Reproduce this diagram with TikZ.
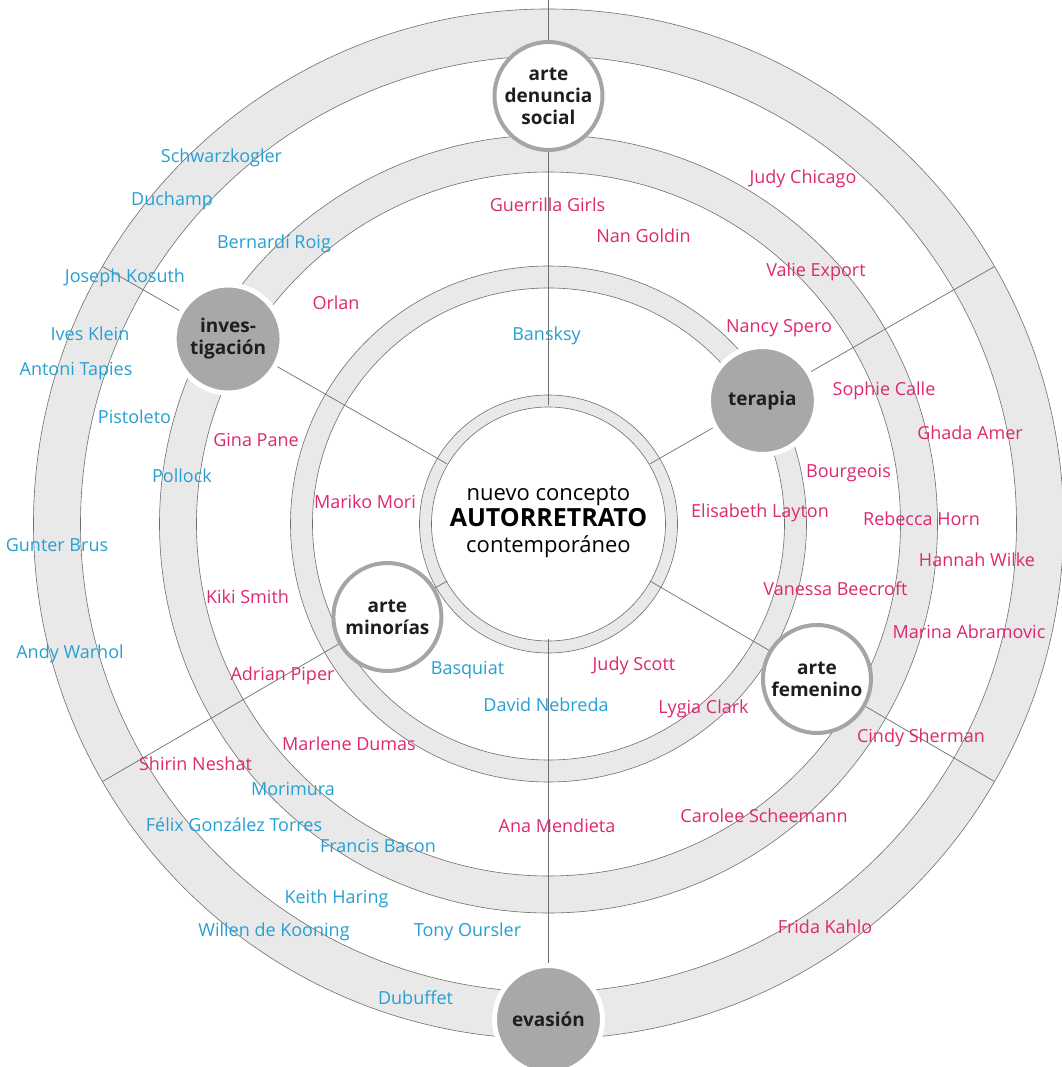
\documentclass[tikz,border=0pt]{standalone}
\usepackage{fontspec}
\setmainfont{Open Sans}
\definecolor{namesblue}{RGB}{38,160,210}
\definecolor{namespink}{RGB}{222,40,112}
\definecolor{bandgray}{RGB}{233,233,233}
\definecolor{linegray}{RGB}{110,110,110}
\definecolor{hubgray}{RGB}{168,168,168}
\definecolor{rimgray}{RGB}{165,165,165}
\definecolor{hubtext}{RGB}{30,30,30}

\begin{document}
\begin{tikzpicture}[
        x=1pt, y=1pt,
        band/.style={fill=bandgray, draw=linegray, line width=0.6pt, even odd rule},
        spoke/.style={draw=linegray, line width=0.7pt},
        hub/.style={circle, fill=hubgray, draw=white, line width=5pt, minimum size=108pt,
            inner sep=0pt, align=center, text=hubtext, font=\fontsize{19}{22}\selectfont\bfseries},
        hubwhite/.style={hub, fill=white, draw=rimgray, line width=4pt},
        bluename/.style={text=namesblue, inner sep=0pt, font=\fontsize{18}{20}\selectfont},
        pinkname/.style={bluename, text=namespink}
    ]
        \useasboundingbox (-548.5,-543) rectangle (512.5,524);
        \fill[white] (-548.5,-543) rectangle (512.5,524);

        % Rings
        \path[band] (0,0) circle (515pt) (0,0) circle (468pt);
        \path[band] (0,0) circle (389pt) (0,0) circle (352pt);
        \path[band] (0,0) circle (258pt) (0,0) circle (236pt);
        \path[band] (0,0) circle (129pt) (0,0) circle (117pt);

        % Centre
        \node[circle, minimum size=234pt, inner sep=0pt, align=center,
            font=\fontsize{22}{26}\selectfont] (centro) at (0,2)
            {nuevo concepto\\{\fontsize{25}{26}\selectfont\bfseries AUTORRETRATO}\\contempor\'aneo};

        % Spokes
        \coordinate (rimN) at (90:524);
        \coordinate (rimNE) at (30:515);
        \coordinate (rimSE) at (-30:515);
        \coordinate (rimS) at (270:515);
        \coordinate (rimSW) at (210:515);
        \coordinate (rimNW) at (150:515);
        \draw[spoke] (centro) -- (rimN);
        \draw[spoke] (centro) -- (rimNE);
        \draw[spoke] (centro) -- (rimSE);
        \draw[spoke] (centro) -- (rimS);
        \draw[spoke] (centro) -- (rimSW);
        \draw[spoke] (centro) -- (rimNW);

        % Hubs
        \node[hubwhite] (denuncia) at (0,428) {arte\\denuncia\\social};
        \node[hub] (terapia) at (30:247) {terapia};
        \node[hubwhite] (femenino) at (-30:310) {arte\\femenino};
        \node[hub] (evasion) at (0,-495.5) {evasi\'on};
        \node[hubwhite] (minorias) at (210:186) {arte\\minor\'ias};
        \node[hub] (investigacion) at (150:370) {inves-\\tigaci\'on};

        % Names (blue)
        \node[bluename] (schwarzkogler) at (-327,366) {Schwarzkogler};
        \node[bluename] (duchamp) at (-376.5,323) {Duchamp};
        \node[bluename] (roig) at (-274.5,280) {Bernard\'i Roig};
        \node[bluename] (kosuth) at (-423.5,246) {Joseph Kosuth};
        \node[bluename] (klein) at (-458.5,190) {Ives Klein};
        \node[bluename] (tapies) at (-472.5,153) {Antoni Tapies};
        \node[bluename] (bansksy) at (-2,188) {Bansksy};
        \node[bluename] (pistoleto) at (-414,107) {Pistoleto};
        \node[bluename] (pollock) at (-366.5,48) {Pollock};
        \node[bluename] (brus) at (-491.5,-21) {Gunter Brus};
        \node[bluename] (warhol) at (-478.5,-129.5) {Andy Warhol};
        \node[bluename] (basquiat) at (-81,-146.5) {Basquiat};
        \node[bluename] (nebreda) at (-2.5,-181) {David Nebreda};
        \node[bluename] (morimura) at (-255.5,-265) {Morimura};
        \node[bluename] (gonzalez) at (-314.5,-300.5) {F\'elix Gonz\'alez Torres};
        \node[bluename] (bacon) at (-170.5,-321.5) {Francis Bacon};
        \node[bluename] (haring) at (-212,-374.5) {Keith Haring};
        \node[bluename] (kooning) at (-274.5,-408) {Willen de Kooning};
        \node[bluename] (oursler) at (-81,-408) {Tony Oursler};
        \node[bluename] (dubuffet) at (-133,-474) {Dubuffet};

        % Names (pink)
        \node[pinkname] (guerrilla) at (-1,319.5) {Guerrilla Girls};
        \node[pinkname] (chicago) at (254.5,345) {Judy Chicago};
        \node[pinkname] (goldin) at (95,288.5) {Nan Goldin};
        \node[pinkname] (export) at (267.5,252) {Valie Export};
        \node[pinkname] (orlan) at (-212.5,221) {Orlan};
        \node[pinkname] (spero) at (230.5,196) {Nancy Spero};
        \node[pinkname] (calle) at (335.5,133) {Sophie Calle};
        \node[pinkname] (amer) at (421.5,91) {Ghada Amer};
        \node[pinkname] (pane) at (-292.5,84) {Gina Pane};
        \node[pinkname] (bourgeois) at (300,50.5) {Bourgeois};
        \node[pinkname] (mori) at (-183.5,22) {Mariko Mori};
        \node[pinkname] (layton) at (211.5,11) {Elisabeth Layton};
        \node[pinkname] (horn) at (373,5) {Rebecca Horn};
        \node[pinkname] (wilke) at (428.5,-36) {Hannah Wilke};
        \node[pinkname] (smith) at (-301,-73) {Kiki Smith};
        \node[pinkname] (beecroft) at (287,-64.5) {Vanessa Beecroft};
        \node[pinkname] (abramovic) at (420.5,-107.5) {Marina Abramovic};
        \node[pinkname] (piper) at (-266,-152) {Adrian Piper};
        \node[pinkname] (scott) at (85.5,-142) {Judy Scott};
        \node[pinkname] (clark) at (155,-185) {Lygia Clark};
        \node[pinkname] (dumas) at (-199.5,-220) {Marlene Dumas};
        \node[pinkname] (neshat) at (-353,-240) {Shirin Neshat};
        \node[pinkname] (sherman) at (372.5,-213.5) {Cindy Sherman};
        \node[pinkname] (scheemann) at (215.5,-291.5) {Carolee Scheemann};
        \node[pinkname] (mendieta) at (8.5,-301.5) {Ana Mendieta};
        \node[pinkname] (kahlo) at (276.5,-403) {Frida Kahlo};
    \end{tikzpicture}
\end{document}
